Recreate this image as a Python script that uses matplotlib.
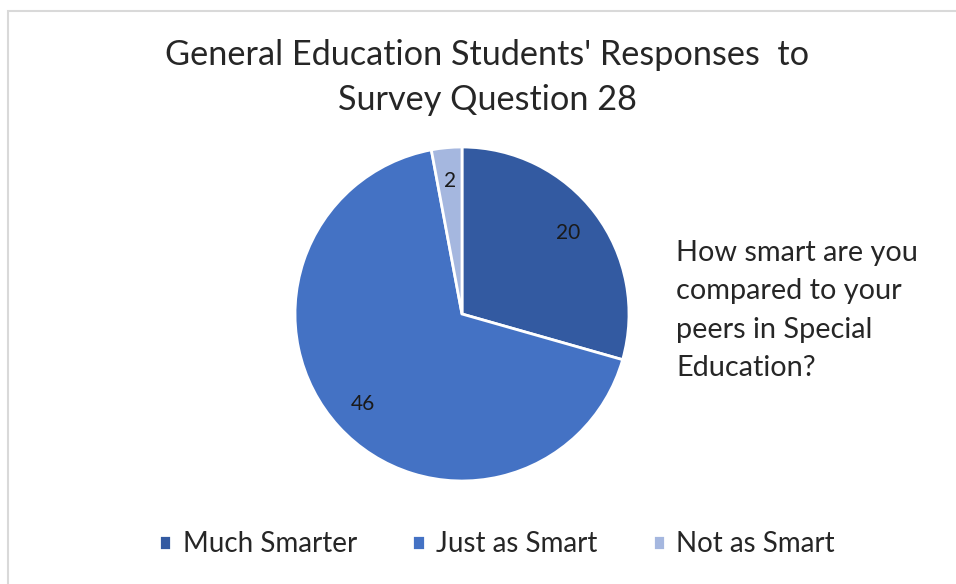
import matplotlib.pyplot as plt
from matplotlib.patches import Rectangle

categories = ['Much Smarter', 'Just as Smart', 'Not as Smart']
counts = [20, 46, 2]
colors = ['#335aa1', '#4472c4', '#a5b7df']

plt.rcParams['font.family'] = ['Lato', 'DejaVu Sans']

W, H = 956, 584
fig = plt.figure(figsize=(W / 100, H / 100), dpi=100)

# thin chart-area frame (top and left edges visible)
fig.patches.append(Rectangle((8 / W, -0.1), 1.5, (H - 11) / H + 0.1,
                             transform=fig.transFigure, fill=False,
                             edgecolor='#d9d9d9', linewidth=1.5))

cx, cy, r = 462, 314, 167
ax = fig.add_axes([(cx - r) / W, (H - cy - r) / H, 2 * r / W, 2 * r / H])
total = sum(counts)
wedges, _, autotexts = ax.pie(
    counts, colors=colors, startangle=90, counterclock=False,
    autopct=lambda p: f'{round(p * total / 100):d}', pctdistance=0.8,
    wedgeprops=dict(edgecolor='white', linewidth=2),
    textprops=dict(fontsize=15, color='#1a1a1a'))
ax.set_xlim(-1, 1)
ax.set_ylim(-1, 1)
ax.set_aspect('equal')

fig.text(487 / W, 1 - 55 / H, "General Education Students' Responses  to",
         ha='center', va='center', fontsize=24.7, color='#262626')
fig.text(487 / W, 1 - 100 / H, 'Survey Question 28',
         ha='center', va='center', fontsize=24.7, color='#262626')

side = ['How smart are you', 'compared to your', 'peers in Special', 'Education?']
for i, line in enumerate(side):
    fig.text(676 / W, 1 - (253 + 38.5 * i) / H, line, ha='left', va='center',
             fontsize=20.8, color='#262626')

leg = fig.legend(wedges, categories, loc='center', bbox_to_anchor=(497 / W, 1 - 544 / H),
                 ncol=3, frameon=False, fontsize=20, handlelength=0.45,
                 handleheight=0.45, handletextpad=0.4, columnspacing=2.0)
for t in leg.get_texts():
    t.set_color('#262626')

fig.savefig('out.png', dpi=100)
